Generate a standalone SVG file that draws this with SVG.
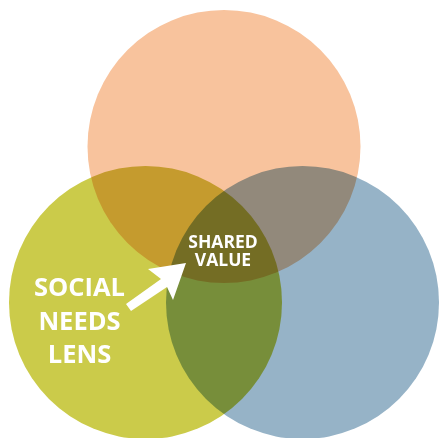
<svg xmlns="http://www.w3.org/2000/svg" width="439" height="438" viewBox="0 0 439 438">
<style>
.c{mix-blend-mode:multiply}
.t{font-family:"Open Sans","Noto Sans","DejaVu Sans",sans-serif;font-weight:700;fill:#fff;text-anchor:middle}
</style>
<rect width="439" height="438" fill="#fff"/>
<g style="isolation:isolate">
<g id="top-circle"><circle class="c" cx="224" cy="146.5" r="136.5" fill="#F8C39D"/></g>
<g id="left-circle"><circle class="c" cx="145.5" cy="302.5" r="136.5" fill="#CBCB4A"/></g>
<g id="right-circle"><circle class="c" cx="302.5" cy="302.5" r="136.5" fill="#96B3C7"/></g>
</g>
<g id="shared-value">
<text class="t" x="223" y="247.5" font-size="17.5">SHARED</text>
<text class="t" x="223" y="266" font-size="17.5">VALUE</text>
</g>
<g id="social-needs-lens">
<text class="t" x="79.5" y="295.5" font-size="25.5">SOCIAL</text>
<text class="t" x="79.5" y="329.5" font-size="25.5">NEEDS</text>
<text class="t" x="79.5" y="363" font-size="25.5">LENS</text>
</g>
<g id="connectors">
<polygon points="126,304 131,311 167,287 173,300 186,263 148,269 161,279" fill="#fff"/>
</g>
</svg>
